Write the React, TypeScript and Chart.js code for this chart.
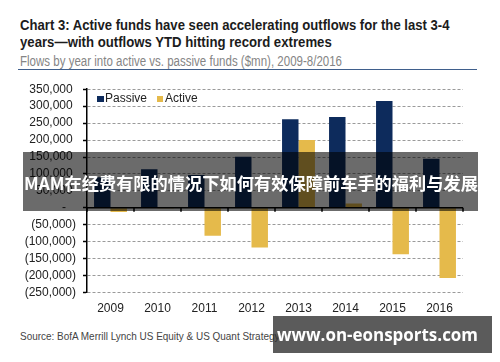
import React, { useEffect, useRef } from "react";
import { Chart, registerables } from "chart.js";

Chart.register(...registerables);

const years = ["2009", "2010", "2011", "2012", "2013", "2014", "2015", "2016"];
const passive = [90000, 114000, 97000, 151000, 261000, 268000, 315000, 145000];
const active = [-12000, -2000, -82000, -117000, 200000, 13000, -137000, -207000];
const seriesNames = ["Passive", "Active"];
const yMin = -250000;
const yMax = 350000;
const yStep = 50000;

const titleLines = [
  "Chart 3: Active funds have seen accelerating outflows for the last 3-4",
  "years\u2014with outflows YTD hitting record extremes",
];
const subtitle = "Flows by year into active vs. passive funds ($mn), 2009-8/2016";
const source = "Source: BofA Merrill Lynch US Equity & US Quant Strategy";
const bannerText = "MAM在经费有限的情况下如何有效保障前车手的福利与发展";
const watermark = "www.on-eonsports.com";

const PASSIVE_COLOR = "#0d2b5c";
const ACTIVE_COLOR = "#e5ba4b";
const SANS = '"Liberation Sans", Arial, sans-serif';

function fmt(v: number): string {
  if (v === 0) return "-   ";
  const s = Math.abs(v).toLocaleString("en-US");
  return v < 0 ? "(" + s + ")" : s + " ";
}

let measureCtx: CanvasRenderingContext2D | null = null;
function measure(text: string, font: string): number {
  if (!measureCtx) measureCtx = document.createElement("canvas").getContext("2d");
  if (!measureCtx) return 1;
  measureCtx.font = font;
  return measureCtx.measureText(text).width || 1;
}

function FitText(props: {
  text: string;
  left: number;
  top: number;
  width: number;
  size: number;
  weight?: number;
  family: string;
  color: string;
  lineHeight: number;
}) {
  const { text, left, top, width, size, weight = 400, family, color, lineHeight } = props;
  const w = measure(text, `${weight} ${size}px ${family}`);
  const sx = width / w;
  return (
    <div
      style={{
        position: "absolute",
        left,
        top,
        fontFamily: family,
        fontWeight: weight,
        fontSize: size,
        lineHeight: lineHeight + "px",
        color,
        whiteSpace: "nowrap",
        transform: `scaleX(${sx})`,
        transformOrigin: "0 0",
      }}
    >
      {text}
    </div>
  );
}

const zeroAxis = {
  id: "zeroAxis",
  afterDatasetsDraw(chart: any) {
    const { ctx, chartArea, scales } = chart;
    const y0 = scales.y.getPixelForValue(0);
    const xs = scales.x;
    ctx.save();
    ctx.strokeStyle = "#000";
    ctx.lineWidth = 1.5;
    ctx.beginPath();
    ctx.moveTo(chartArea.left, y0);
    ctx.lineTo(chartArea.right, y0);
    for (let i = 0; i <= years.length; i++) {
      const px = xs.getPixelForValue(i - 0.5);
      ctx.moveTo(px, y0);
      ctx.lineTo(px, y0 + 4);
    }
    ctx.stroke();
    ctx.restore();
  },
};

function ChartCanvas() {
  const ref = useRef<HTMLCanvasElement | null>(null);
  useEffect(() => {
    if (!ref.current) return;
    const chart = new Chart(ref.current, {
      type: "bar",
      data: {
        labels: years,
        datasets: [
          { label: seriesNames[0], data: passive, backgroundColor: PASSIVE_COLOR, categoryPercentage: 0.7, barPercentage: 1.0 },
          { label: seriesNames[1], data: active, backgroundColor: ACTIVE_COLOR, categoryPercentage: 0.7, barPercentage: 1.0 },
        ],
      },
      options: {
        responsive: false,
        animation: false,
        layout: { padding: { top: 12, right: 37, bottom: 0, left: 0 } },
        plugins: { legend: { display: false }, tooltip: { enabled: false } },
        scales: {
          x: {
            grid: { display: false, drawTicks: false },
            border: { display: false },
            ticks: { color: "#222", font: { family: SANS, size: 12 }, padding: 9, maxRotation: 0 },
          },
          y: {
            min: yMin,
            max: yMax,
            afterFit(scale: any) {
              scale.width = 87;
            },
            ticks: {
              stepSize: yStep,
              autoSkip: false,
              color: "#222",
              padding: 7,
              font: { family: SANS, size: 12 },
              callback: (v: any) => fmt(Number(v)),
            },
            grid: {
              color: "#9a9a9a",
              lineWidth: 1,
              tickLength: 4,
              tickColor: "#000",
              tickBorderDash: [],
              tickWidth: 1.5,
            },
            border: { display: true, color: "#000", width: 1.5, dash: [3, 2] },
          },
        },
      },
      plugins: [zeroAxis],
    });
    return () => chart.destroy();
  }, []);
  return <canvas ref={ref} width={500} height={250} style={{ position: "absolute", left: 0, top: 75 }} />;
}

export default function App() {
  return (
    <div style={{ position: "absolute", left: 0, top: 0, width: 500, height: 362, background: "#fff", overflow: "hidden" }}>
      <FitText text={titleLines[0]} left={20} top={15.5} width={430} size={15} weight={700} family={SANS} color="#1c1c1c" lineHeight={17} />
      <FitText text={titleLines[1]} left={20} top={32.5} width={312} size={15} weight={700} family={SANS} color="#1c1c1c" lineHeight={17} />
      <FitText text={subtitle} left={20} top={53} width={322} size={14} family={SANS} color="#858585" lineHeight={16} />
      <div style={{ position: "absolute", left: 18, top: 68.5, width: 459, height: 1.5, background: "#3f5f8c" }} />
      <ChartCanvas />
      <div style={{ position: "absolute", left: 97, top: 95.5, width: 6.5, height: 6.5, background: PASSIVE_COLOR }} />
      <div style={{ position: "absolute", left: 105, top: 91, fontFamily: SANS, fontSize: 12, lineHeight: "14px", color: "#222" }}>{seriesNames[0]}</div>
      <div style={{ position: "absolute", left: 156.5, top: 95.5, width: 6.5, height: 6.5, background: ACTIVE_COLOR }} />
      <div style={{ position: "absolute", left: 165, top: 91, fontFamily: SANS, fontSize: 12, lineHeight: "14px", color: "#222" }}>{seriesNames[1]}</div>
      <FitText text={source} left={20} top={330} width={260} size={11.5} family={SANS} color="#444" lineHeight={13} />
      <div style={{ position: "absolute", left: 23, top: 152, width: 455, height: 59, background: "rgba(0,0,0,0.58)" }} />
      <FitText text={bannerText} left={24} top={172} width={454} size={17.5} weight={700} family='"Noto Sans CJK SC", "Noto Sans", sans-serif' color="#fff" lineHeight={22} />
      <div style={{ position: "absolute", left: 273, top: 316, width: 219, height: 37, background: "rgba(45,45,45,0.78)" }} />
      <FitText text={watermark} left={277} top={323} width={201} size={18} weight={700} family='"Open Sans", "DejaVu Sans", sans-serif' color="#fff" lineHeight={22} />
    </div>
  );
}
